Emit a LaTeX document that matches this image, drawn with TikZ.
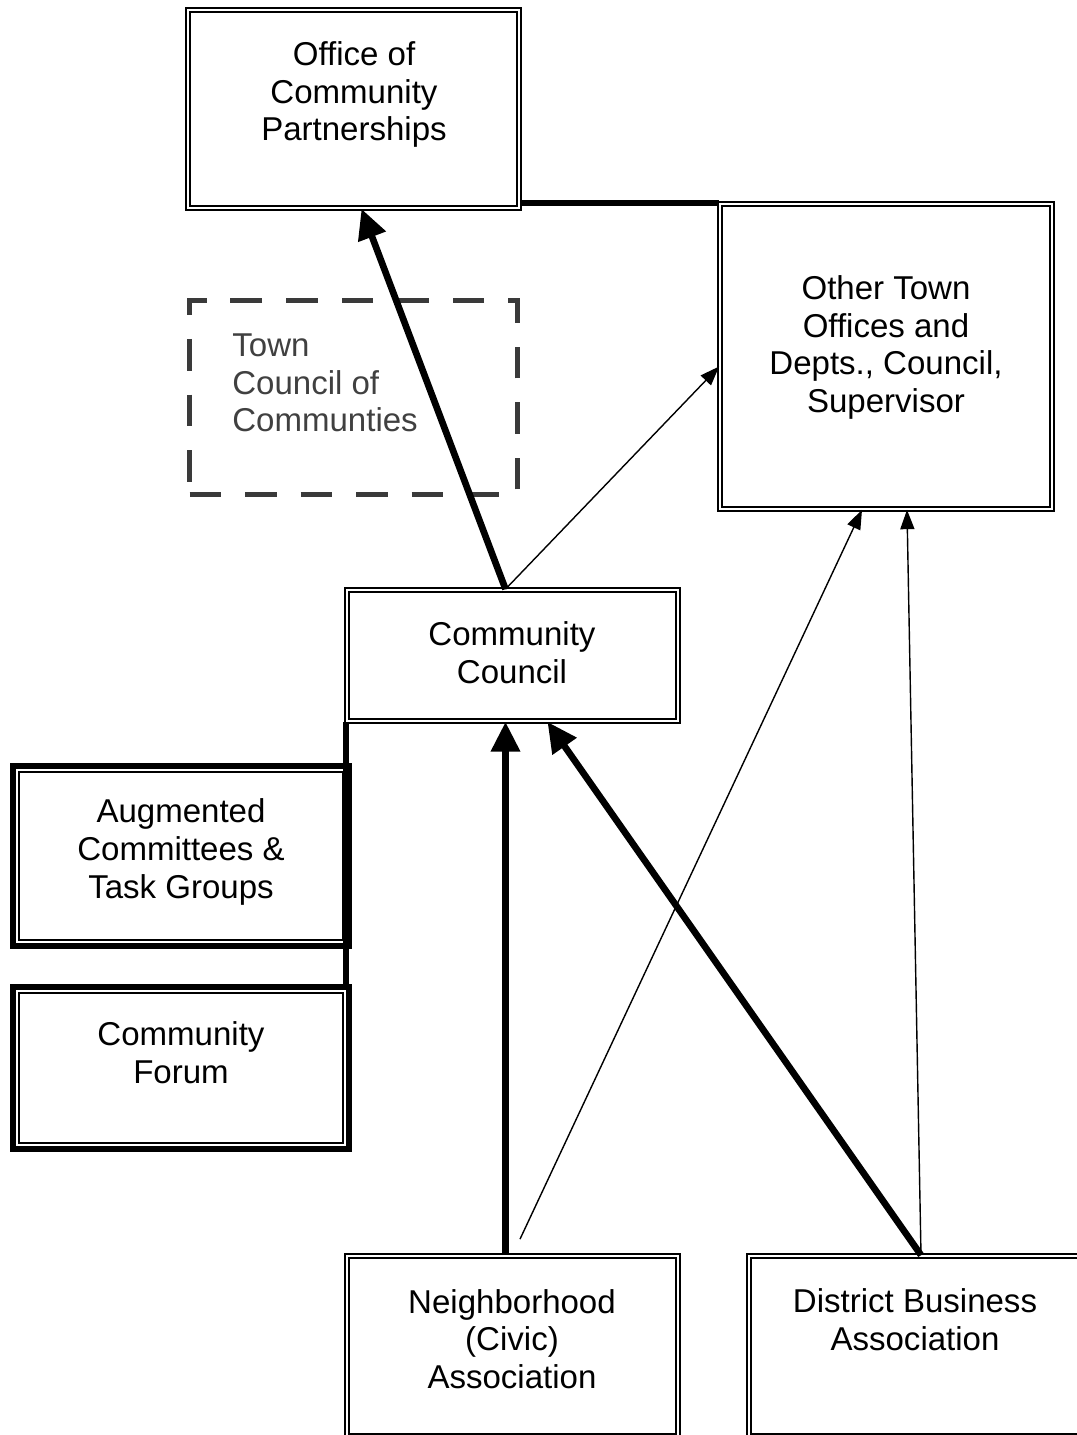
\documentclass[tikz,border=0pt]{standalone}
\usepackage{fontspec}
\setmainfont{Liberation Sans}
\usepackage{tikz}
\usetikzlibrary{calc,arrows.meta,positioning,fit}

\definecolor{dashgray}{HTML}{3A3A3A}
\definecolor{textgray}{HTML}{404040}

\tikzset{
  boxframe/.style={draw, double=white, line width=1pt, double distance=1.2pt, inner sep=0pt},
  boxrim/.style={draw, line width=2.5pt, inner sep=2.25pt},
  dashframe/.style={draw=dashgray, line width=2.8pt, dash pattern=on 18pt off 13.6pt, inner sep=0pt},
  boxtext/.style={inner sep=0pt, align=center, font=\fontsize{18.8}{21.5}\selectfont},
  heavyline/.style={line width=3.8pt},
  heavyarrow/.style={heavyline, -{Triangle[length=17pt,width=16pt]}},
  thinarrow/.style={line width=0.8pt, -{Triangle[length=11pt,width=8pt]}},
}

\begin{document}
\begin{tikzpicture}[x=0.02cm, y=-0.02cm]
    \useasboundingbox (0,0) rectangle (1076,1435);

    % boxes
    \node[boxframe, minimum width=6.62cm, minimum height=3.96cm] (ocp) at (353.5,109) {};
    \node[boxtext] (ocptext) at (354,94.5) {Office of\\Community\\Partnerships};

    \node[boxframe, minimum width=6.64cm, minimum height=6.10cm] (other) at (886,356.5) {};
    \node[boxtext] (othertext) at (886,347.5) {Other Town\\Offices and\\Depts., Council,\\Supervisor};

    \node[dashframe, minimum width=6.56cm, minimum height=3.88cm] (tcc) at (353.5,397.5) {};
    \node[boxtext, text=textgray, align=left, anchor=west] (tcctext) at (232,383) {Town\\Council of\\Communties};

    \node[boxframe, minimum width=6.62cm, minimum height=2.62cm] (cc) at (512.5,655.5) {};
    \node[boxtext] (cctext) at (512,652.5) {Community\\Council};

    \node[boxframe, minimum width=6.56cm, minimum height=3.44cm] (aug) at (181,856) {};
    \node[boxrim, fit=(aug)] (augrim) {};
    \node[boxtext] (augtext) at (181,852) {Augmented\\Committees \&\\Task Groups};

    \node[boxframe, minimum width=6.56cm, minimum height=3.08cm] (forum) at (181,1068) {};
    \node[boxrim, fit=(forum)] (forumrim) {};
    \node[boxtext] (forumtext) at (181,1053) {Community\\Forum};

    \node[boxframe, minimum width=6.62cm, minimum height=3.6cm] (neigh) at (512.5,1346) {};
    \node[boxtext] (neightext) at (512,1339) {Neighborhood\\(Civic)\\Association};

    \node[boxframe, minimum width=6.72cm, minimum height=3.6cm] (dba) at (917,1346) {};
    \node[boxtext] (dbatext) at (915,1320) {District Business\\Association};

    % connectors
    \draw[heavyline] (ocp.east |- other.north west) -- (other.north west);
    \draw[heavyarrow] ([xshift=-0.14cm]cc.north) -- ([xshift=0.16cm]ocp.south);
    \draw[thinarrow] ([xshift=-0.14cm]cc.north) -- ([yshift=-0.2cm]other.west);
    \draw[heavyline] (cc.south west) -- (cc.south west |- forum.north);
    \draw[heavyarrow] ([xshift=-0.14cm]neigh.north) -- ([xshift=-0.14cm]cc.south);
    \coordinate (neighpin) at ([xshift=0.15cm,yshift=0.32cm]neigh.north);
    \draw[thinarrow] (neighpin) -- ([xshift=-0.48cm]other.south);
    \draw[heavyarrow] ([xshift=0.08cm]dba.north) -- ([xshift=0.7cm]cc.south);
    \draw[thinarrow] ([xshift=0.08cm]dba.north) -- ([xshift=0.42cm]other.south);
\end{tikzpicture}
\end{document}
